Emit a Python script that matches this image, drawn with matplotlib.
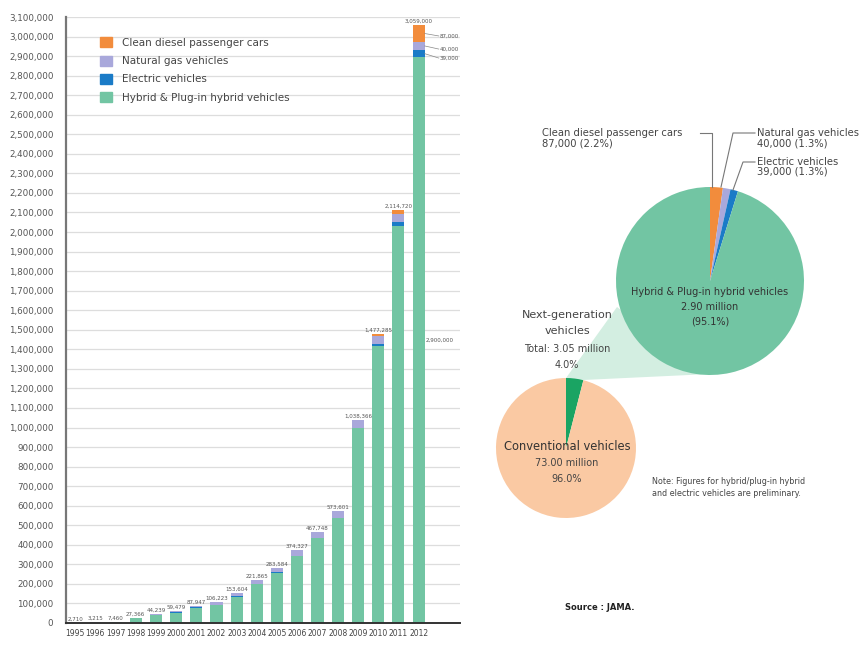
import numpy as np
import matplotlib
matplotlib.use("Agg")
import matplotlib.pyplot as plt
from matplotlib.patches import Patch, Polygon
from matplotlib.ticker import FuncFormatter, MultipleLocator

# Data
years = ["1995", "1996", "1997", "1998", "1999", "2000", "2001", "2002", "2003",
         "2004", "2005", "2006", "2007", "2008", "2009", "2010", "2011", "2012"]
hybrid = [0, 0, 3760, 23066, 38739, 53479, 79147, 92723, 135304, 199765, 257584,
          343527, 435148, 536601, 996966, 1419285, 2031720, 2893000]
electric = [2010, 2015, 2500, 2500, 2500, 2000, 1800, 1500, 1300, 1100, 1000,
            800, 600, 500, 1900, 9000, 22000, 39000]
natural_gas = [700, 1200, 1200, 1800, 3000, 4000, 7000, 12000, 17000, 21000, 25000,
               30000, 32000, 36000, 38000, 40000, 41000, 40000]
diesel = [0, 0, 0, 0, 0, 0, 0, 0, 0, 0, 0, 0, 0, 500, 1500, 9000, 20000, 87000]
total_labels = ["2,710", "3,215", "7,460", "27,366", "44,239", "59,479", "87,947",
                "106,223", "153,604", "221,865", "283,584", "374,327", "467,748",
                "573,601", "1,038,366", "1,477,285", "2,114,720", "3,059,000"]
series_names = ["Hybrid & Plug-in hybrid vehicles", "Electric vehicles",
                "Natural gas vehicles", "Clean diesel passenger cars"]

pie_big_labels = ["Clean diesel", "Natural gas", "Electric", "Hybrid"]
pie_big_values = [2.2, 1.3, 1.3, 95.1]
pie_small_values = [4.0, 96.0]

c_green = "#72c5a3"
c_blue = "#1a7bc7"
c_lav = "#a9a8db"
c_orange = "#f28c3c"
c_peach = "#fac9a3"
c_dgreen = "#1aa463"
c_link = "#d3eee1"
txt = "#444444"

fig = plt.figure(figsize=(8.68, 6.45), dpi=100)

# ---------------- bar chart ----------------
ax = fig.add_axes([66 / 868, 22 / 645, 394 / 868, 606 / 645])
x = np.arange(len(years))
w = 0.6
h = np.array(hybrid)
e = np.array(electric)
g = np.array(natural_gas)
d = np.array(diesel)
ax.bar(x, h, w, color=c_green, zorder=2)
ax.bar(x, e, w, bottom=h, color=c_blue, zorder=2)
ax.bar(x, g, w, bottom=h + e, color=c_lav, zorder=2)
ax.bar(x, d, w, bottom=h + e + g, color=c_orange, zorder=2)
tops = h + e + g + d

ax.set_ylim(0, 3100000)
ax.set_xlim(-0.45, 19.05)
ax.yaxis.set_major_locator(MultipleLocator(100000))
ax.yaxis.set_major_formatter(FuncFormatter(lambda v, p: f"{int(v):,}"))
ax.grid(axis="y", color="#dddddd", linewidth=0.9, zorder=0)
ax.set_axisbelow(True)
ax.tick_params(axis="y", length=0, labelsize=6.3, labelcolor="#555555", pad=9)
ax.tick_params(axis="x", length=0, labelsize=5.5, labelcolor="#444444", pad=4)
ax.set_xticks(x)
ax.set_xticklabels(years)
for s in ["top", "right"]:
    ax.spines[s].set_visible(False)
ax.spines["left"].set_color("#777777")
ax.spines["left"].set_linewidth(1.6)
ax.spines["bottom"].set_color("#333333")
ax.spines["bottom"].set_linewidth(1.4)

for i in range(len(years)):
    ax.text(x[i], tops[i] + 6000, total_labels[i], ha="center", va="bottom",
            fontsize=4, color="#555555")

# side labels on the 2012 bar
last = len(years) - 1
seg_mid = [(h[last] + e[last] + g[last] + d[last] / 2, "87,000", 3003000),
           (h[last] + e[last] + g[last] / 2, "40,000", 2936000),
           (h[last] + e[last] / 2, "39,000", 2890000)]
for ym, lab, yt in seg_mid:
    ax.plot([x[last] + w / 2, x[last] + 1.0], [ym, yt], color="#888888", lw=0.5, zorder=3)
    ax.text(x[last] + 1.05, yt, lab, ha="left", va="center", fontsize=4, color="#555555")
ax.text(x[last] + w / 2 + 0.05, h[last] / 2, "2,900,000", ha="left", va="center",
        fontsize=4, color="#555555")

handles = [Patch(color=c_orange), Patch(color=c_lav), Patch(color=c_blue), Patch(color=c_green)]
fig.legend(handles, series_names[::-1], loc="upper left",
           bbox_to_anchor=(96 / 868, 1 - 33 / 645), frameon=False, fontsize=7.5,
           handlelength=1.1, handleheight=1.1, handletextpad=1.0, labelspacing=0.75,
           labelcolor=txt, borderaxespad=0)

# ---------------- pies ----------------
ax2 = fig.add_axes([0, 0, 1, 1])
ax2.patch.set_visible(False)

cb = (710, 364)
rb = 94
cs = (566, 197)
rs = 70

link = Polygon([(566, 267), (617, 338), (710, 271), (583, 265)], closed=True,
               facecolor=c_link, edgecolor="none", zorder=0.5)
ax2.add_patch(link)

ax2.pie(pie_big_values, colors=[c_orange, c_lav, c_blue, c_green], startangle=90,
        counterclock=False, center=cb, radius=rb, wedgeprops=dict(linewidth=0))
ax2.pie(pie_small_values, colors=[c_dgreen, c_peach], startangle=90,
        counterclock=False, center=cs, radius=rs, wedgeprops=dict(linewidth=0))
ax2.set_xlim(0, 868)
ax2.set_ylim(0, 645)
ax2.axis("off")

# labels for the big pie
ax2.text(542, 512, "Clean diesel passenger cars", ha="left", va="center", fontsize=7.2, color=txt)
ax2.text(542, 502, "87,000 (2.2%)", ha="left", va="center", fontsize=7.2, color=txt)
ax2.plot([700, 712, 712], [512, 512, 458], color="#777777", lw=0.8)
ax2.text(757, 512, "Natural gas vehicles", ha="left", va="center", fontsize=7.2, color=txt)
ax2.text(757, 502, "40,000 (1.3%)", ha="left", va="center", fontsize=7.2, color=txt)
ax2.plot([755, 733, 721], [512, 512, 458], color="#777777", lw=0.8)
ax2.text(757, 483, "Electric vehicles", ha="left", va="center", fontsize=7.2, color=txt)
ax2.text(757, 473, "39,000 (1.3%)", ha="left", va="center", fontsize=7.2, color=txt)
ax2.plot([755, 743, 733], [483, 483, 455], color="#777777", lw=0.8)

ax2.text(710, 353, "Hybrid & Plug-in hybrid vehicles", ha="center", va="center", fontsize=7, color="#333333")
ax2.text(710, 338, "2.90 million", ha="center", va="center", fontsize=7, color="#333333")
ax2.text(710, 323, "(95.1%)", ha="center", va="center", fontsize=7, color="#333333")

# labels for the small pie
ax2.text(567, 330, "Next-generation", ha="center", va="center", fontsize=8, color=txt)
ax2.text(567, 314, "vehicles", ha="center", va="center", fontsize=8, color=txt)
ax2.text(567, 296, "Total: 3.05 million", ha="center", va="center", fontsize=7, color=txt)
ax2.text(567, 280, "4.0%", ha="center", va="center", fontsize=7, color=txt)

ax2.text(567, 199, "Conventional vehicles", ha="center", va="center", fontsize=8.3, color="#333333")
ax2.text(567, 182, "73.00 million", ha="center", va="center", fontsize=7, color=txt)
ax2.text(567, 166, "96.0%", ha="center", va="center", fontsize=7, color=txt)

ax2.text(652, 164, "Note: Figures for hybrid/plug-in hybrid", ha="left", va="center", fontsize=5.8, color=txt)
ax2.text(652, 152, "and electric vehicles are preliminary.", ha="left", va="center", fontsize=5.8, color=txt)

ax2.text(565, 38, "Source : JAMA.", ha="left", va="center", fontsize=6, color="#222222", fontweight="bold")

fig.savefig("out.png", dpi=100)
